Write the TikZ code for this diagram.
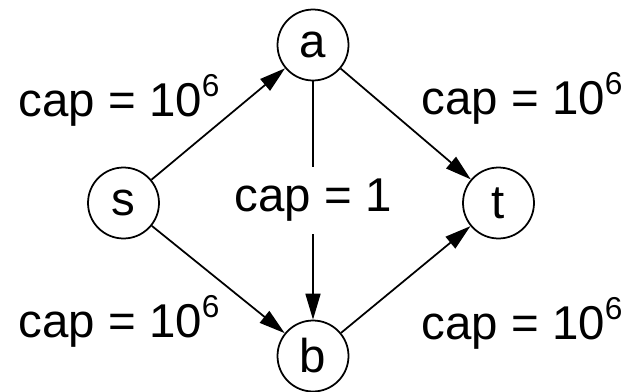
\documentclass[tikz,border=0pt]{standalone}
\usepackage{fontspec}
\setmainfont{Liberation Sans}
\usetikzlibrary{arrows.meta}
\newcommand{\capsup}[1]{\raisebox{0.42em}{\fontsize{18}{18}\selectfont #1}}
\tikzset{
  vertex/.style   = {circle, draw=black, line width=1pt, fill=white,
                     minimum size=1.42cm, inner sep=0pt,
                     font=\fontsize{27}{31}\selectfont},
  flowedge/.style = {draw=black, line width=1pt,
                     -{Triangle[length=5.2mm, width=3mm]}},
  caplabel/.style = {font=\fontsize{27}{31}\selectfont, inner sep=0pt,
                     anchor=base},
  capgap/.style   = {font=\fontsize{27}{31}\selectfont, fill=white,
                     inner sep=2.4mm},
}

\begin{document}
\begin{tikzpicture}[x=0.02cm, y=-0.02cm]
  \useasboundingbox (0,0) rectangle (632,392);
  % vertices
  \node[vertex] (s) at (123.5,203) {s};
  \node[vertex] (a) at (313,45)    {a};
  \node[vertex] (b) at (313,356)   {b};
  \node[vertex] (t) at (498.5,203) {t};
  % edges
  \draw[flowedge] (s) -- (a);
  \draw[flowedge] (s) -- (b);
  \draw[flowedge] (a) -- (t);
  \draw[flowedge] (b) -- (t);
  \draw[flowedge] (a) -- node[capgap] {cap = 1} (b);
  % capacities
  \node[caplabel] (capsa) at (119,116) {cap = 10\capsup{6}};
  \node[caplabel] (capat) at (522,114) {cap = 10\capsup{6}};
  \node[caplabel] (capsb) at (119,337) {cap = 10\capsup{6}};
  \node[caplabel] (capbt) at (522,339) {cap = 10\capsup{6}};
\end{tikzpicture}
\end{document}
